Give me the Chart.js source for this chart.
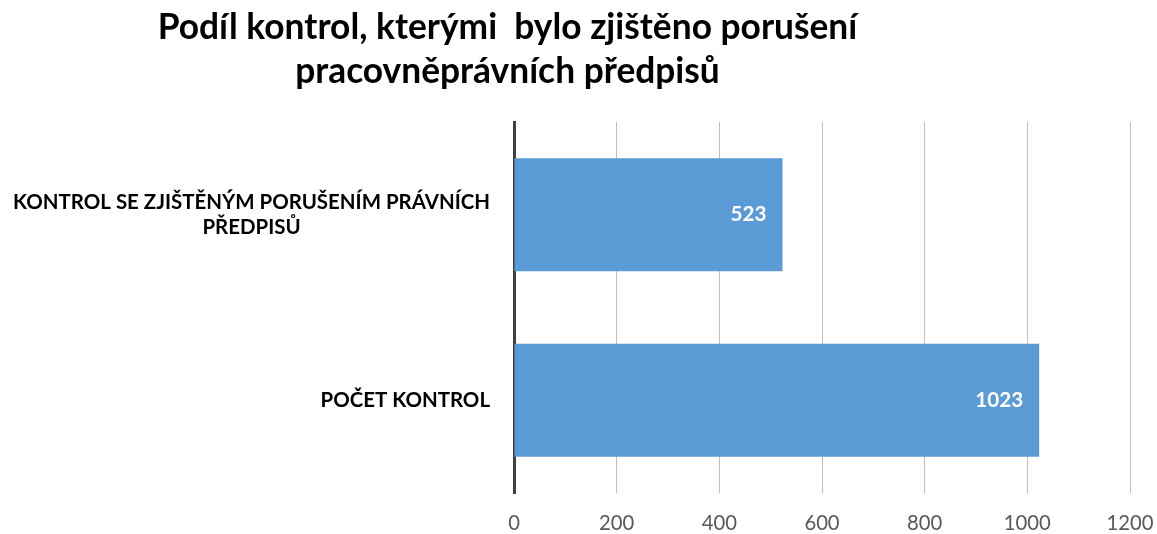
<!DOCTYPE html>
<html><head><meta charset="utf-8">
<script src="https://cdn.jsdelivr.net/npm/chart.js@4"></script>
<style>html,body{margin:0;padding:0;background:#fff;}</style>
</head><body>
<canvas id="c" width="1157" height="534"></canvas>
<script>
const titleLines = ["Podíl kontrol, kterými  bylo zjištěno porušení", "pracovněprávních předpisů"];
const categories = [["KONTROL SE ZJIŠTĚNÝM PORUŠENÍM PRÁVNÍCH", "PŘEDPISŮ"], ["POČET KONTROL"]];
const values = [523, 1023];
const axisMin = 0, axisMax = 1200, axisStep = 200;

const FAMILY = "Lato, 'Open Sans', sans-serif";
const mctx = document.createElement('canvas').getContext('2d');
function fit(text, weight, target) {
  mctx.font = weight + ' 100px ' + FAMILY;
  return 100 * target / mctx.measureText(text).width;
}
const titleSize = fit(titleLines[0], 'bold', 700);
const catSize = fit(categories[0][0], 'bold', 477);
const tickSize = fit(String(axisMax - axisStep), 'normal', 47);
const valSize = fit(String(values[1]), 'bold', 48);

const titleShift = {
  id: 'titleShift',
  afterLayout(chart) {
    const t = chart.titleBlock;
    if (t) { t.left = 0; t.right = 1015; t.width = 1015; }
  }
};
const catLabels = {
  id: 'catLabels',
  afterDraw(chart) {
    const ctx = chart.ctx, y = chart.scales.y;
    ctx.save();
    ctx.font = 'bold ' + catSize + 'px ' + FAMILY;
    ctx.fillStyle = '#000';
    ctx.textAlign = 'center';
    ctx.textBaseline = 'middle';
    const right = chart.chartArea.left - 24, lh = 25;
    categories.forEach((lines, i) => {
      const cy = y.getPixelForTick(i);
      const w = Math.max(...lines.map(l => ctx.measureText(l).width));
      const cx = right - w / 2;
      lines.forEach((l, j) => ctx.fillText(l, cx, cy + (j - (lines.length - 1) / 2) * lh));
    });
    ctx.restore();
  }
};
const valueLabels = {
  id: 'valueLabels',
  afterDatasetsDraw(chart) {
    const ctx = chart.ctx, meta = chart.getDatasetMeta(0);
    ctx.save();
    ctx.font = 'bold ' + valSize + 'px ' + FAMILY;
    ctx.fillStyle = '#fff';
    ctx.textAlign = 'right';
    ctx.textBaseline = 'middle';
    meta.data.forEach((bar, i) => ctx.fillText(String(values[i]), bar.x - 16, bar.y));
    ctx.restore();
  }
};

new Chart(document.getElementById('c'), {
  type: 'bar',
  data: {
    labels: categories.map(c => c.join(' ')),
    datasets: [{ data: values, backgroundColor: '#5B9BD5', borderWidth: 0, categoryPercentage: 1, barPercentage: 0.61 }]
  },
  options: {
    indexAxis: 'y',
    responsive: false,
    devicePixelRatio: 1,
    animation: false,
    layout: { padding: { left: 0, right: 27, top: 0, bottom: 0 } },
    plugins: {
      legend: { display: false },
      tooltip: { enabled: false },
      title: {
        display: true, text: titleLines, color: '#000',
        font: { family: FAMILY, size: titleSize, weight: 'bold', lineHeight: '44px' },
        padding: { top: 6, bottom: 28 }
      }
    },
    scales: {
      x: {
        min: axisMin, max: axisMax,
        ticks: { stepSize: axisStep, color: '#595959', font: { family: FAMILY, size: tickSize }, padding: 18,
                 callback: v => String(v) },
        grid: { color: '#BFBFBF', lineWidth: 1, drawTicks: false },
        border: { display: false },
        afterFit(s) { s.paddingLeft = 0; s.paddingRight = 0; s.height = 41; }
      },
      y: {
        ticks: { display: false },
        grid: { display: false },
        border: { display: true, color: '#404040', width: 3 },
        afterFit(s) { s.width = 514; }
      }
    }
  },
  plugins: [titleShift, catLabels, valueLabels]
});
</script>
</body></html>
